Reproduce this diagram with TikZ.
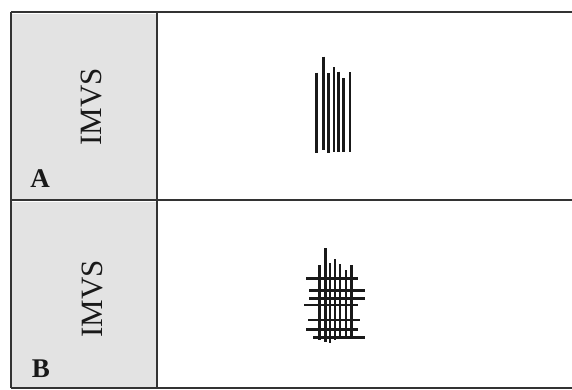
\documentclass[tikz,border=0pt]{standalone}
\usepackage{fontspec}
\setmainfont{Liberation Serif}
\begin{document}
\begin{tikzpicture}[x=1pt,y=-1pt,
  rule/.style={draw=black!80,line width=1.8pt},
  cellfill/.style={fill=black!11},
  stroke/.style={draw=black!90,line width=2.6pt},
  sidelabel/.style={rotate=90,font=\fontsize{31}{31}\selectfont,text=black!90,inner sep=0pt},
  letter/.style={font=\fontsize{27}{27}\bfseries\selectfont,text=black!90,inner sep=0pt}]
\useasboundingbox (0,0) rectangle (572,390);
% grey cells
\fill[cellfill] (12,14) rectangle (156,199);
\fill[cellfill] (12,202) rectangle (156,387);
% rules
\draw[rule] (11,12) -- (572,12);
\draw[rule] (11,200) -- (572,200);
\draw[rule] (11,388) -- (572,388);
\draw[rule] (11,12) -- (11,388);
\draw[rule] (157,12) -- (157,388);
% labels
\node[sidelabel] (ta) at (91,107) {IMVS};
\node[sidelabel] (tb) at (92,299) {IMVS};
\node[letter] (la) at (40,179) {A};
\node[letter] (lb) at (41,369) {B};
% panel A strokes
\foreach \x/\a/\b in {316.7/72.7/152.7, 323.3/56.7/150, 328.3/73.3/153, 334/67.3/151.7, 338.7/71.7/151.7, 343.3/78.3/151.7, 350/72.3/151.7}
  \draw[stroke] (\x,\a) -- (\x,\b);
% panel B strokes
\foreach \x/\a/\b in {319.3/265/340, 325.3/248.3/341.7, 330/263.3/343, 335/259.3/340, 340/264/337, 346/270/337, 351.7/265/337}
  \draw[stroke] (\x,\a) -- (\x,\b);
\foreach \y/\a/\b in {278.3/306/358.3, 290.7/309.3/365, 298.3/309.3/365, 305/304/358.3, 320/308.3/360, 329.3/306/358.3, 337.3/313.3/365}
  \draw[stroke] (\a,\y) -- (\b,\y);
\end{tikzpicture}
\end{document}
